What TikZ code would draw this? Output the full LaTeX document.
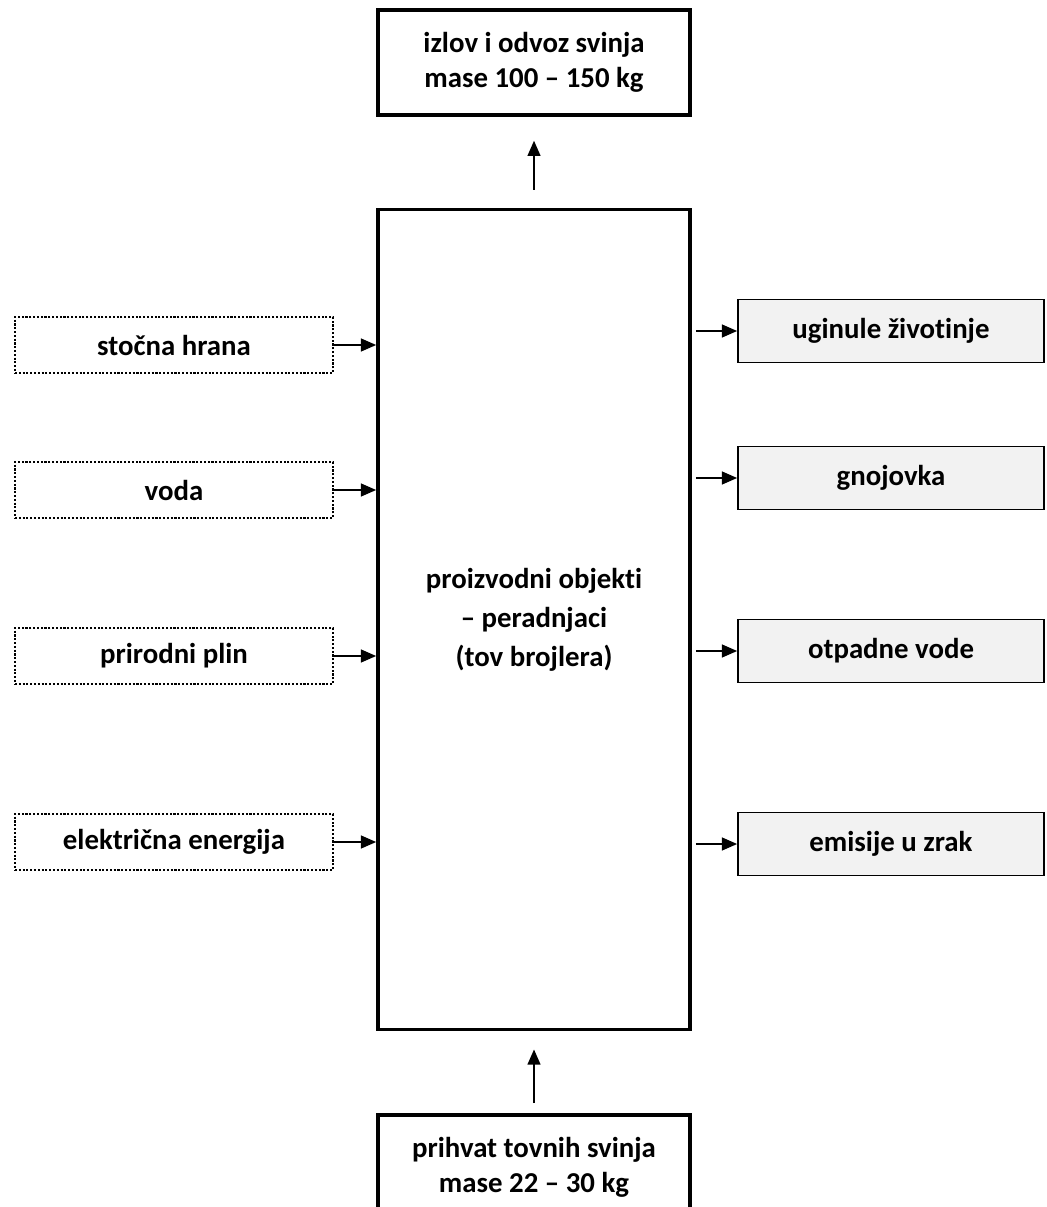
\documentclass[tikz,border=0pt]{standalone}
\usepackage{fontspec}
\setmainfont{Carlito}[Ligatures=NoCommon]
\usepackage{xcolor}
\usetikzlibrary{arrows.meta}

\definecolor{outfill}{HTML}{F2F2F2}

\tikzset{
  every node/.style={font=\bfseries\fontsize{20.5}{24.5}\selectfont, align=center, inner sep=0pt},
  mainbox/.style={draw, line width=2.6pt, minimum width=7.8cm},
  inbox/.style={draw, line width=1.5pt, dash pattern=on 1.5pt off 1.2pt, minimum width=7.95cm, minimum height=1.4cm},
  outbox/.style={draw, fill=outfill, line width=1.2pt, minimum width=7.65cm, minimum height=1.575cm},
  flow/.style={line width=1.3pt, -{Triangle[length=0.38cm,width=0.32cm]}}
}

\begin{document}
\begin{tikzpicture}
				\useasboundingbox (0,0) rectangle (26.15,-30.175);
				\clip (0,0) rectangle (26.15,-30.175);
				% central unit
				\node [mainbox, minimum height=20.5cm, font=\bfseries\fontsize{20.5}{27.7}\selectfont] (main) at (13.35,-15.49) {proizvodni objekti\\– peradnjaci\\(tov brojlera)};
				\node [mainbox, minimum height=2.625cm] (izlov) at (13.35,-1.56) {izlov i odvoz svinja\\mase 100 – 150 kg};
				\node [mainbox, minimum height=2.625cm, anchor=north] (prihvat) at (13.35,-27.825) {prihvat tovnih svinja\\mase 22 – 30 kg};
				% inputs
				\node [inbox] (hrana) at (4.35,-8.625) {stočna hrana};
				\node [inbox] (voda) at (4.35,-12.25) {voda};
				\node [inbox] (plin) at (4.35,-16.4) {prirodni plin};
				\node [inbox] (struja) at (4.35,-21.05) {električna energija};
				% outputs
				\node [outbox] (uginule) at (22.275,-8.275) {uginule životinje};
				\node [outbox] (gnojovka) at (22.275,-11.95) {gnojovka};
				\node [outbox] (otpadne) at (22.275,-16.275) {otpadne vode};
				\node [outbox] (emisije) at (22.275,-21.1) {emisije u zrak};
				% flows
				\foreach \src in {hrana,voda,plin,struja}
					\draw [flow] (\src.east) -- (\src.east -| main.west);
				\foreach \dst in {uginule,gnojovka,otpadne,emisije}
					\draw [flow, shorten <=0.1cm] (\dst.west -| main.east) -- (\dst.west);
				\draw [flow, shorten <=0.45cm, shorten >=0.6cm] (main.north) -- (izlov.south);
				\draw [flow, shorten <=0.25cm, shorten >=0.45cm] (prihvat.north) -- (main.south);
\end{tikzpicture}
\end{document}
